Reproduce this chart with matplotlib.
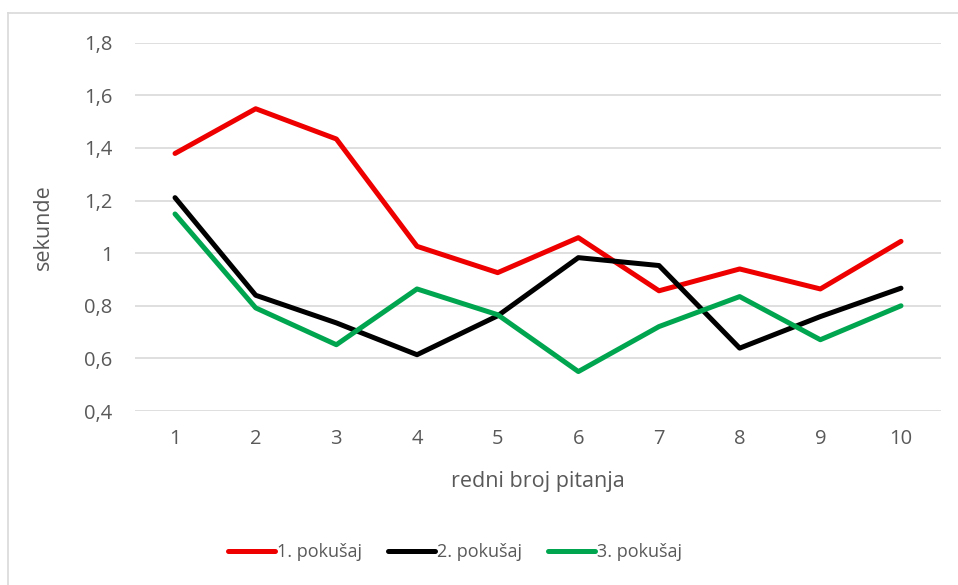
import matplotlib.pyplot as plt
from matplotlib.lines import Line2D

plt.rcParams['font.family'] = ['Open Sans', 'DejaVu Sans']

# Data
questions = ["1", "2", "3", "4", "5", "6", "7", "8", "9", "10"]
attempt_1 = [1.379, 1.549, 1.434, 1.026, 0.926, 1.059, 0.857, 0.940, 0.864, 1.045]
attempt_2 = [1.211, 0.840, 0.735, 0.614, 0.762, 0.983, 0.953, 0.639, 0.759, 0.867]
attempt_3 = [1.149, 0.792, 0.652, 0.864, 0.766, 0.550, 0.721, 0.835, 0.671, 0.800]
series_names = ["1. pokušaj", "2. pokušaj", "3. pokušaj"]
y_ticks = [0.4, 0.6, 0.8, 1.0, 1.2, 1.4, 1.6, 1.8]
y_tick_labels = ["0,4", "0,6", "0,8", "1", "1,2", "1,4", "1,6", "1,8"]

colors = ["#EE0000", "#000000", "#00A550"]
text_color = "#595959"

fig = plt.figure(figsize=(9.58, 5.85), dpi=100)
ax = fig.add_axes([0.1406, 0.2974, 0.842, 0.6296])

x = range(1, len(questions) + 1)
for values, name, color in zip([attempt_1, attempt_2, attempt_3], series_names, colors):
    ax.plot(x, values, color=color, linewidth=3.6, label=name, solid_capstyle="round")

ax.set_xlim(0.5, len(questions) + 0.5)
ax.set_ylim(0.4, 1.8)
ax.set_xticks(list(x))
ax.set_xticklabels(questions)
ax.set_yticks(y_ticks)
ax.set_yticklabels(y_tick_labels)

# Gridlines only, no spines
ax.grid(axis="y", color="#D9D9D9", linewidth=1.2)
ax.set_axisbelow(True)
for spine in ax.spines.values():
    spine.set_visible(False)
ax.tick_params(length=0, labelsize=14.5, labelcolor=text_color)
ax.tick_params(axis="x", pad=13)
ax.tick_params(axis="y", pad=16)

ax.set_xlabel("redni broj pitanja", fontsize=15.5, color=text_color, labelpad=16)
ax.set_ylabel("sekunde", fontsize=15.5, color=text_color, labelpad=22)

ax.legend(
    loc="center",
    bbox_to_anchor=(0.475, 0.056),
    bbox_transform=fig.transFigure,
    ncol=3,
    frameon=False,
    fontsize=13,
    labelcolor=text_color,
    handlelength=2.6,
    handletextpad=0.15,
    columnspacing=1.4,
)

# Chart area border (top and left visible)
fig.add_artist(Line2D([8 / 958, 1], [1 - 13 / 585, 1 - 13 / 585], transform=fig.transFigure, color="#D9D9D9", linewidth=1.2))
fig.add_artist(Line2D([8 / 958, 8 / 958], [0, 1 - 13 / 585], transform=fig.transFigure, color="#D9D9D9", linewidth=1.2))

fig.savefig("out.png", dpi=100)
